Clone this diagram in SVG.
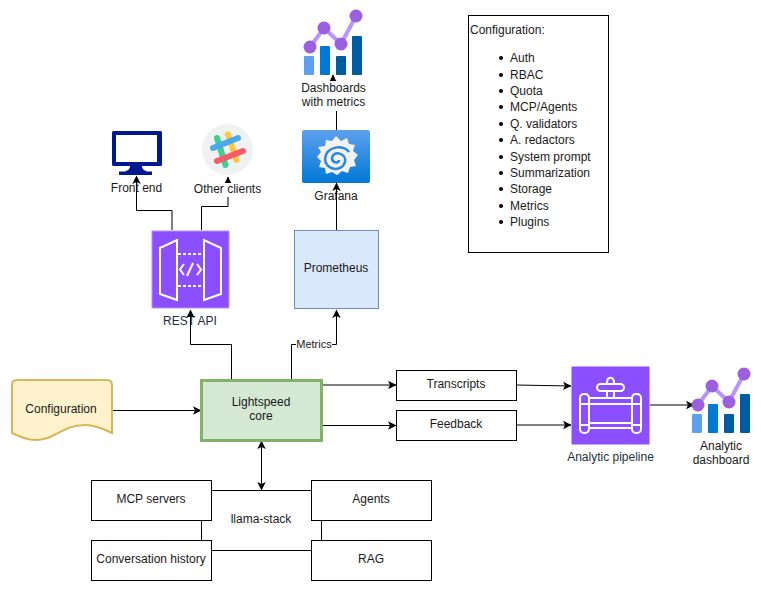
<svg xmlns="http://www.w3.org/2000/svg" width="761" height="591" viewBox="0 0 761 591">
<defs>
<marker id="a" markerUnits="userSpaceOnUse" markerWidth="10" markerHeight="10" refX="8.500" refY="5" orient="auto-start-reverse"><path d="M0.500 0.800L9 5L0.500 9.200L2.500 5Z" fill="#000"/></marker>
<linearGradient id="g" x1="0" y1="0" x2="0" y2="1"><stop offset="0" stop-color="#5ea0ef"/><stop offset="1" stop-color="#0078d4"/></linearGradient>
<g id="chart">
<path d="M7 34L21 15L38 31L53 3" fill="none" stroke="#b796f9" stroke-width="4"/>
<rect x="1" y="43" width="10" height="19" rx="1" fill="#5ea0ef"/><rect x="17" y="33" width="10" height="29" rx="1" fill="#0078d4"/><rect x="33" y="43" width="10" height="19" rx="1" fill="#005ba1"/><rect x="49" y="23" width="10" height="39" rx="1" fill="#005ba1"/>
<circle cx="7" cy="34" r="6.500" fill="#9b5fe0"/><circle cx="21" cy="15" r="6.500" fill="#9b5fe0"/><circle cx="38" cy="31" r="6.500" fill="#9b5fe0"/><circle cx="53" cy="3" r="6.500" fill="#9b5fe0"/>
</g>
</defs>
<style>
text{font-family:"Liberation Sans",Arial,sans-serif;font-size:12px;fill:#1a1a1a;text-anchor:middle}
.s{text-anchor:start}
.b{fill:#fff;stroke:#000;stroke-width:1}
.c{fill:none;stroke:#000;stroke-width:1;marker-end:url(#a)}
.l{fill:none;stroke:#000;stroke-width:1}
.w{fill:none;stroke:#fff;stroke-width:2}
.d{fill:none;stroke:#fff;stroke-width:2;stroke-dasharray:3 2}
.p{fill:#8c4fff}
</style>
<rect width="761" height="591" fill="#fff"/>
<g id="frontend"><path d="M113.500 131H160.500Q162 131 162 132.500V164.500Q162 166 160.500 166H142Q142 170 147 171.500H152V175H119V171.500H125Q130 170 130 166H113.500Q112 166 112 164.500V132.500Q112 131 113.500 131Z" fill="#00188f"/><rect x="116" y="135" width="41" height="27" fill="#fff"/><text x="136.500" y="192">Front end</text></g>
<g id="grafana"><rect x="302" y="130" width="68" height="53" rx="2" fill="url(#g)"/><path d="M336 136L341 141L347 138L349 144L355 145L353 151L358 155L354 160L356 166L350 167L348 173L342 171L337 175L332 172L326 174L325 168L319 167L321 161L317 157L321 152L318 147L325 146L326 140L332 141Z" fill="#f2f2f2"/><path d="M349 152C344 144 326 146 325 159C325 170 342 173 345 162C347 153 333 150 332 158C332 163 339 164 339 160" fill="none" stroke="#2a86dd" stroke-width="2.500"/><text x="336" y="200">Grafana</text></g>
<g id="restapi"><rect x="152" y="231" width="77" height="77" class="p" stroke="#b794ff"/><path class="w" d="M160 248L177 240V300L160 294ZM221 248L204 240V300L221 294Z"/><path class="d" d="M178 254H203M178 286H203"/><path class="w" d="M184 264L180 269.500L184 275M197 264L201 269.500L197 275M193 263L187 276"/><text x="190" y="325" style="fill:#232f3e">REST API</text></g>
<g id="connectors">
<path class="c" d="M172 230V210.500H136.500V176"/>
<path class="c" d="M201.500 230V206.500H228V177"/>
<path class="c" d="M336.500 230V183"/>
<path class="l" d="M336.500 130V111"/>
<path class="c" d="M333 90V75"/>
<path class="c" d="M231.500 380V344.500H190.500V310"/>
<path class="c" d="M291.500 380V344.500H336.500V310"/>
<path class="c" d="M113 410.500H201"/>
<path class="c" d="M322 385H396"/>
<path class="c" d="M322 425.500H396"/>
<path class="c" d="M516 385L571 386"/>
<path class="c" d="M516 425H571"/>
<path class="c" d="M650 405H694"/>
<path class="c" style="marker-start:url(#a)" d="M261.500 441V490"/>
</g>
<g id="metrics-label"><rect x="296" y="338" width="36" height="12" fill="#fff"/><text x="314" y="348" style="font-size:11px">Metrics</text></g>
<g id="dash1"><use href="#chart" x="303" y="13"/><rect x="299" y="81" width="68" height="29" fill="#fff"/><text x="333.500" y="92">Dashboards</text><text x="333.500" y="106">with metrics</text></g>
<g id="clients"><circle cx="227.500" cy="149.500" r="25.500" fill="#f0f2f2"/>
<path d="M217 138L225.500 165" stroke="#3ecf8e" stroke-width="6" stroke-linecap="round"/><path d="M228 134.500L236.500 160" stroke="#ffc83d" stroke-width="6" stroke-linecap="round"/><path d="M213 148L238 138" stroke="#4aa8ee" stroke-width="6" stroke-linecap="round"/><path d="M217 161L243 151" stroke="#f55c6a" stroke-width="6" stroke-linecap="round"/><rect x="194" y="183" width="67" height="14" fill="#fff"/><text x="227.500" y="193">Other clients</text></g>
<g id="prometheus"><rect x="294.500" y="230.500" width="84" height="78" fill="#dae8fc" stroke="#6c8ebf"/><text x="336" y="272">Prometheus</text></g>
<g id="config-doc"><path d="M12 385Q12 380 17 380H107Q112 380 112 385V433C104 429 95 425 85 425C62 425 55 440 37 440C30 440 25 439 12 433Z" fill="#fff2cc" stroke="#d6b656" stroke-width="2"/><text x="61" y="413">Configuration</text></g>
<g id="core"><rect x="201.500" y="380.500" width="120" height="60" fill="#d5e8d4" stroke="#82b366" stroke-width="3"/><text x="261" y="406">Lightspeed</text><text x="261" y="420">core</text></g>
<g id="transcripts"><rect class="b" x="396.500" y="370.500" width="120" height="30"/><text x="456" y="388">Transcripts</text></g>
<g id="feedback"><rect class="b" x="396.500" y="410.500" width="120" height="30"/><text x="456" y="428">Feedback</text></g>
<g id="pipeline"><rect x="571.500" y="366.500" width="78" height="78" class="p"/><path class="w" d="M589 398H632M589 404H632M589 423H632M589 428H632M580 404H589M580 425H589M632 404H641M632 425H641M607 392V398M614 392V398M607 383C607 376 614 376 614 383"/><rect x="580" y="394" width="9" height="39" rx="4" class="w"/><rect x="632" y="394" width="9" height="39" rx="4" class="w"/><rect x="597" y="384" width="27" height="7" rx="3.500" class="w"/><text x="610.500" y="461" style="fill:#232f3e">Analytic pipeline</text></g>
<g id="dash2"><use href="#chart" x="691" y="371"/><text x="721" y="450">Analytic</text><text x="721" y="464">dashboard</text></g>
<g id="llama"><rect class="b" x="201.500" y="490.500" width="120" height="60"/><text x="261" y="523">llama-stack</text></g>
<g id="mcp"><rect class="b" x="91.500" y="480.500" width="120" height="40"/><text x="151" y="503">MCP servers</text></g>
<g id="history"><rect class="b" x="91.500" y="540.500" width="120" height="40"/><text x="151" y="563">Conversation history</text></g>
<g id="agents"><rect class="b" x="311.500" y="480.500" width="120" height="40"/><text x="371" y="503">Agents</text></g>
<g id="rag"><rect class="b" x="311.500" y="540.500" width="120" height="40"/><text x="371" y="563">RAG</text></g>
<g id="config-list"><rect class="b" x="468.500" y="15.500" width="140" height="237"/>
<text class="s" x="470" y="34">Configuration:</text>
<text class="s" x="510" y="62">Auth</text><text class="s" x="510" y="79">RBAC</text><text class="s" x="510" y="95">Quota</text><text class="s" x="510" y="111">MCP/Agents</text><text class="s" x="510" y="128">Q. validators</text><text class="s" x="510" y="144">A. redactors</text><text class="s" x="510" y="161">System prompt</text><text class="s" x="510" y="177">Summarization</text><text class="s" x="510" y="193">Storage</text><text class="s" x="510" y="210">Metrics</text><text class="s" x="510" y="226">Plugins</text>
<g fill="#000"><circle cx="501" cy="58" r="2"/><circle cx="501" cy="75" r="2"/><circle cx="501" cy="91" r="2"/><circle cx="501" cy="107" r="2"/><circle cx="501" cy="124" r="2"/><circle cx="501" cy="140" r="2"/><circle cx="501" cy="157" r="2"/><circle cx="501" cy="173" r="2"/><circle cx="501" cy="189" r="2"/><circle cx="501" cy="206" r="2"/><circle cx="501" cy="222" r="2"/></g></g>
</svg>
